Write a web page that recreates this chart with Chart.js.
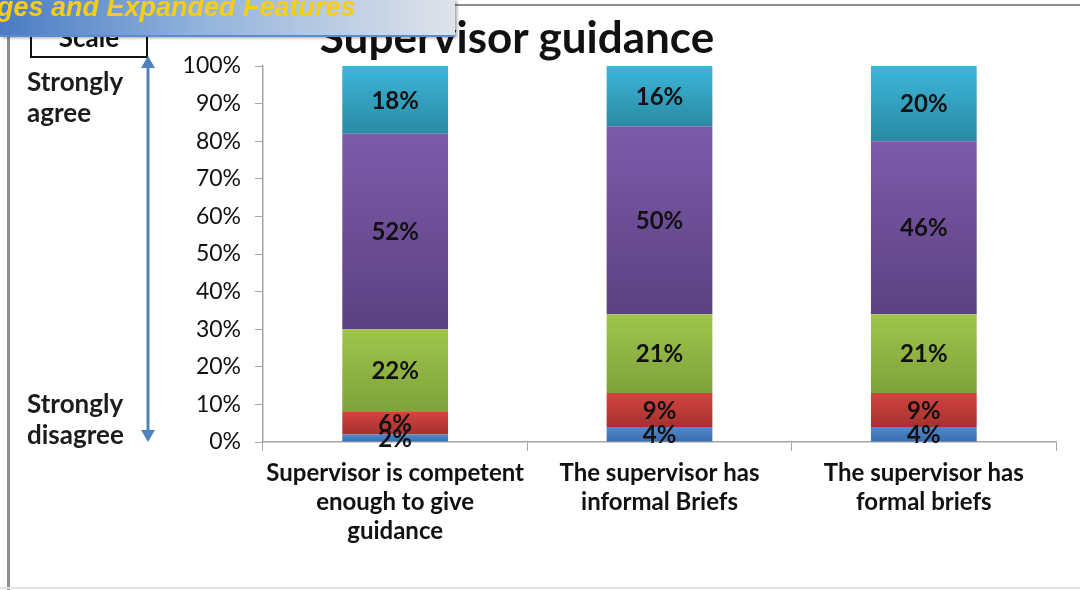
<!DOCTYPE html>
<html>
<head>
<meta charset="utf-8">
<script src="https://cdn.jsdelivr.net/npm/chart.js@4/dist/chart.umd.min.js"></script>
<style>
  html, body { margin: 0; padding: 0; background: #fff; }
  #wrap { position: relative; width: 1080px; height: 590px; overflow: hidden; font-family: Lato, "Open Sans", sans-serif; }
  #chart { position: absolute; left: 0; top: 0; }
  .frameTop { position: absolute; left: 0; top: 4px; width: 1080px; height: 2px; background: #8c8c8c; }
  .frameLeft { position: absolute; left: 7px; top: 0; width: 3px; height: 590px; background: #8e8e8e; }
  .frameBottom { position: absolute; left: 0; top: 587px; width: 1080px; height: 2px; background: #e2e2e2; }
  #title { position: absolute; left: 317px; width: 400px; top: 10px; text-align: center; font-weight: bold; font-size: 44px; color: #111; white-space: nowrap; }
  #scaleBox { position: absolute; left: 30px; top: 14px; width: 114px; height: 40px; border: 2px solid #111; font-weight: bold; font-size: 26px; text-align: center; line-height: 42px; color: #111; background: #fff; }
  .side { position: absolute; left: 27px; font-weight: bold; font-size: 26px; line-height: 31px; color: #1c1c1c; }
  #banner { position: absolute; left: 0; top: 0; width: 455px; height: 35px; background: linear-gradient(to right, #4a7cc4 0%, #93b4dc 45%, #dfe3ea 100%); border-bottom: 2px solid #5b8bd0; box-shadow: 2px 1px 3px rgba(0,0,0,0.35); overflow: hidden; z-index: 5; }
  #banner span { position: absolute; left: -3px; top: -8px; font-family: "Liberation Sans", Arial, sans-serif; font-style: italic; font-weight: bold; font-size: 27px; color: #f7cd16; white-space: nowrap; }
  #arrow { position: absolute; left: 138px; top: 54px; }
</style>
</head>
<body>
<div id="wrap">
  <div class="frameTop"></div>
  <div class="frameLeft"></div>
  <div class="frameBottom"></div>
  <canvas id="chart" width="1080" height="590"></canvas>
  <div id="title">Supervisor guidance</div>
  <div id="scaleBox">Scale</div>
  <div class="side" style="top:66px">Strongly<br>agree</div>
  <div class="side" style="top:388px">Strongly<br>disagree</div>
  <svg id="arrow" width="22" height="392">
    <line x1="10" y1="10" x2="10" y2="380" stroke="#4f81bd" stroke-width="3"/>
    <polygon points="10,2 3,14 17,14" fill="#4f81bd"/>
    <polygon points="10,388 3,376 17,376" fill="#4f81bd"/>
  </svg>
  <div id="banner"><span>ges and Expanded Features</span></div>
</div>
<script>
// categories (x axis)
const categories = [
  ["Supervisor is competent", "enough to give", "guidance"],
  ["The supervisor has", "informal Briefs"],
  ["The supervisor has", "formal briefs"]
];

// series values, bottom to top (percent)
const level1 = [2, 4, 4];
const level2 = [6, 9, 9];
const level3 = [22, 21, 21];
const level4 = [52, 50, 46];
const level5 = [18, 16, 20];

const yTicks = [0, 10, 20, 30, 40, 50, 60, 70, 80, 90, 100];

const seriesList = [level1, level2, level3, level4, level5];

// top / bottom colours of each segment gradient
const shades = [
  ["#4d8ad0", "#3a6cab"],
  ["#d4443f", "#a5312e"],
  ["#a0c54c", "#7da23a"],
  ["#7d5aab", "#5b4181"],
  ["#3cb6da", "#2a8aa3"]
];

// vertical gradient per segment, computed from the y scale
function segmentFill(dsIndex) {
  return function (ctx) {
    const chart = ctx.chart;
    const y = chart.scales && chart.scales.y;
    if (!y || ctx.dataIndex === undefined) return shades[dsIndex][0];
    let bottom = 0;
    for (let k = 0; k < dsIndex; k++) bottom += seriesList[k][ctx.dataIndex];
    const top = bottom + seriesList[dsIndex][ctx.dataIndex];
    const yTop = y.getPixelForValue(top);
    const yBot = y.getPixelForValue(bottom);
    if (!isFinite(yTop) || !isFinite(yBot) || yTop === yBot) return shades[dsIndex][0];
    const g = chart.ctx.createLinearGradient(0, yTop, 0, yBot);
    g.addColorStop(0, shades[dsIndex][0]);
    g.addColorStop(1, shades[dsIndex][1]);
    return g;
  };
}

// ✅ value labels in the middle of each segment
const segmentLabels = {
  id: "segmentLabels",
  afterDatasetsDraw(chart) {
    const ctx = chart.ctx;
    ctx.save();
    ctx.font = "bold 24px Lato, 'Open Sans', sans-serif";
    ctx.fillStyle = "#111";
    ctx.textAlign = "center";
    ctx.textBaseline = "middle";
    chart.data.datasets.forEach((ds, i) => {
      const meta = chart.getDatasetMeta(i);
      meta.data.forEach((bar, j) => {
        const cy = (bar.y + bar.base) / 2;
        ctx.fillText(ds.data[j] + "%", bar.x, cy + 1);
      });
    });
    ctx.restore();
  }
};

const gray = "#a6a6a6";

new Chart(document.getElementById("chart").getContext("2d"), {
  type: "bar",
  data: {
    labels: categories,
    datasets: seriesList.map((vals, i) => ({
      data: vals,
      backgroundColor: segmentFill(i),
      borderWidth: 0,
      barPercentage: 0.4,
      categoryPercentage: 1.0
    }))
  },
  options: {
    responsive: false,
    animation: false,
    layout: { padding: { top: 66, right: 24, left: 0, bottom: 0 } },
    plugins: {
      legend: { display: false },
      tooltip: { enabled: false }
    },
    scales: {
      x: {
        stacked: true,
        grid: { drawOnChartArea: false, color: gray, tickLength: 9, offset: true },
        border: { color: gray, width: 1.5 },
        ticks: {
          color: "#111",
          padding: 8,
          maxRotation: 0,
          font: { family: "Lato, 'Open Sans', sans-serif", size: 24, weight: "bold", lineHeight: 1.2 }
        },
        afterFit: function (scale) { scale.height = 148; }
      },
      y: {
        stacked: true,
        min: 0,
        max: 100,
        afterBuildTicks: function (scale) { scale.ticks = yTicks.map(v => ({ value: v })); },
        grid: { drawOnChartArea: false, color: gray, tickLength: 8 },
        border: { color: gray, width: 1.5 },
        ticks: {
          color: "#111",
          padding: 14,
          font: { family: "Lato, 'Open Sans', sans-serif", size: 23 },
          callback: function (v) { return v + "%"; }
        },
        afterFit: function (scale) { scale.width = 263; }
      }
    }
  },
  plugins: [segmentLabels]
});
</script>
</body>
</html>
